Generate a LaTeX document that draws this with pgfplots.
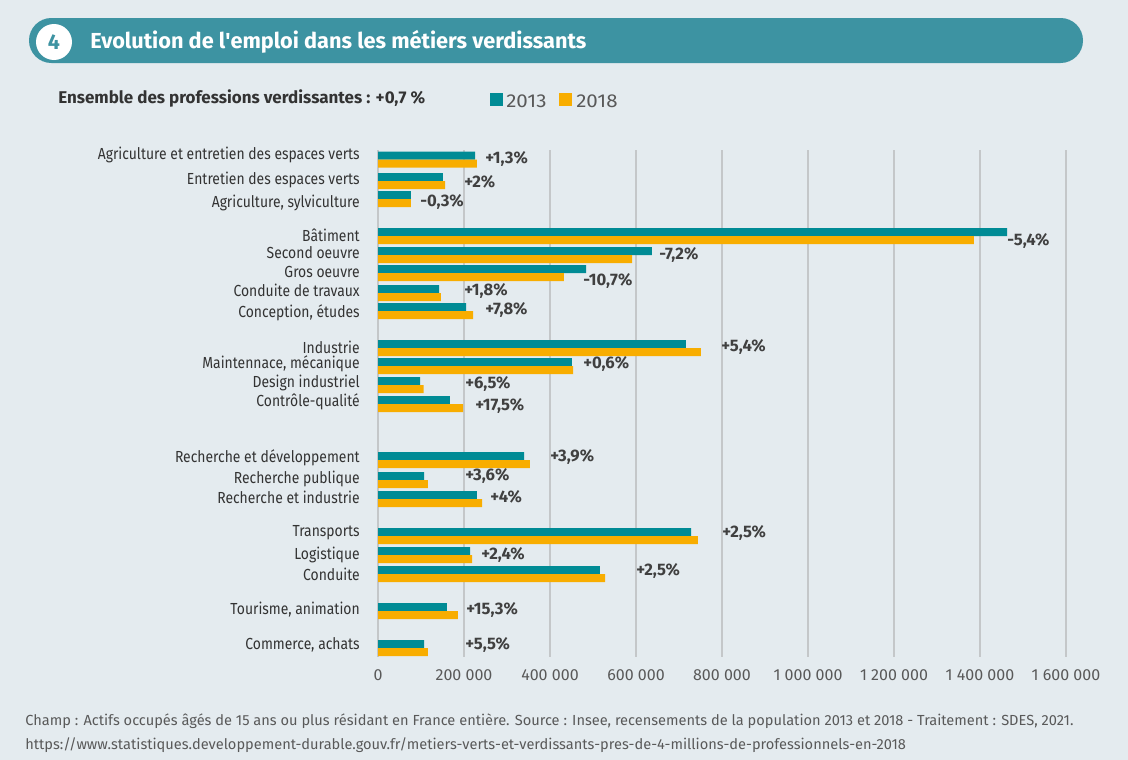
\documentclass[border=0pt]{standalone}
\usepackage{pgfplots}
\pgfplotsset{compat=1.18}
\usepackage{fontspec}
\setmainfont{Fira Sans}
\newfontfamily\condfont[FakeStretch=0.87]{Fira Sans}
\newfontfamily\widefont[FakeStretch=1.1]{Fira Sans}
\definecolor{bg}{HTML}{E4EBEF}
\definecolor{teal13}{HTML}{008B95}
\definecolor{orange18}{HTML}{F8AD00}
\definecolor{banner}{HTML}{3D93A2}
\definecolor{lab}{HTML}{333333}
\definecolor{vlab}{HTML}{404040}
\definecolor{tick}{HTML}{595959}
\definecolor{gridc}{HTML}{C4C7C9}
\begin{document}
\begin{tikzpicture}
\begin{scope}[x=0.75pt,y=-0.75pt]
\fill[bg] (0,0) rectangle (1128,760);
\useasboundingbox (0,0) rectangle (1128,760);
\fill[banner,rounded corners=16.8pt] (29,18) rectangle (1083,63);
\fill[white] (54,42) circle (13.5pt);
\node[text=banner,font=\fontsize{16}{18}\selectfont\bfseries] at (54,42) {4};
\node[anchor=west,inner sep=0pt,text=white,font=\fontsize{16.3}{19}\selectfont\bfseries] at (90,42) {Evolution de l\textquotesingle emploi dans les métiers verdissants};
\node[anchor=west,inner sep=0pt,text=lab,font=\fontsize{12.75}{15}\selectfont\bfseries] at (58,98) {Ensemble des professions verdissantes : +0,7 \%};
\fill[teal13] (490,93) rectangle (503,106);
\node[anchor=west,inner sep=0pt,text=tick,font=\widefont\fontsize{14}{16}\selectfont] at (506,101) {2013};
\fill[orange18] (559,93) rectangle (572,106);
\node[anchor=west,inner sep=0pt,text=tick,font=\widefont\fontsize{14}{16}\selectfont] at (576,101) {2018};
\node[anchor=west,inner sep=0pt,text=tick,font=\fontsize{10.95}{13}\selectfont] at (25,721) {Champ : Actifs occupés âgés de 15 ans ou plus résidant en France entière. Source : Insee, recensements de la population 2013 et 2018 - Traitement : SDES, 2021.};
\node[anchor=west,inner sep=0pt,text=tick,font=\fontsize{10.95}{13}\selectfont] at (25,745) {https://www.statistiques.developpement-durable.gouv.fr/metiers-verts-et-verdissants-pres-de-4-millions-de-professionnels-en-2018};
\end{scope}
\begin{axis}[
  at={(283.5pt,-492.75pt)}, anchor=south west,
  scale only axis, width=516pt, height=380.25pt,
  xmin=0, xmax=1600000, ymin=150, ymax=657, y dir=reverse,
  scaled x ticks=false,
  axis line style={draw=none}, tick style={draw=none},
  xmajorgrids, grid style={gridc, line width=1.2pt},
  xtick={0,200000,400000,600000,800000,1000000,1200000,1400000,1600000},
  xticklabels={0,{200 000},{400 000},{600 000},{800 000},{1 000 000},{1 200 000},{1 400 000},{1 600 000}},
  xticklabel style={text=tick, font=\fontsize{12}{14}\selectfont, anchor=north, inner sep=0pt, yshift=-9.5pt},
  ytick={155,180,203,235,253,272,290,313,347,364,383,402,458,479,497,533,555,574,610,645},
  yticklabels={Agriculture et entretien des espaces verts, Entretien des espaces verts, {Agriculture, sylviculture}, Bâtiment, Second oeuvre, Gros oeuvre, Conduite de travaux, {Conception, études}, Industrie, {Maintennace, mécanique}, Design industriel, Contrôle-qualité, Recherche et développement, Recherche publique, Recherche et industrie, Transports, Logistique, Conduite, {Tourisme, animation}, {Commerce, achats}},
  yticklabel style={text=lab, font=\condfont\fontsize{12}{14}\selectfont, anchor=east, inner sep=0pt, xshift=-13.5pt},
  clip=false,
]
\addplot[xbar, bar shift=0, bar width=8, fill=teal13, draw=none] coordinates {
(225600,155.5) (151000,177) (76700,195) (1463000,232) (637000,251) (484000,269) (142000,289) (205000,307)
(716000,344) (451000,362) (98000,381) (167000,400) (340000,456) (107000,476) (230000,495)
(728000,532) (214000,551) (516000,570) (160000,607) (107000,644)};
\addplot[xbar, bar shift=0, bar width=8, fill=orange18, draw=none] coordinates {
(230000,163.5) (156000,185) (76500,203) (1386000,240) (591000,259) (432000,277) (146500,297) (221000,315)
(751000,352) (453500,370) (106000,389) (198000,408) (353000,464) (116000,484) (242000,503)
(744000,540) (219000,559) (528000,578) (186000,615) (116000,652)};
\begin{scope}[every node/.style={anchor=west, inner sep=0pt, text=vlab, font=\fontsize{12.5}{14}\selectfont\bfseries}]
\node at (axis cs:248800,159) {+1,3\%};
\node at (axis cs:200000,182) {+2\%};
\node at (axis cs:97700,202) {-0,3\%};
\node at (axis cs:1462800,241) {-5,4\%};
\node at (axis cs:653500,255) {-7,2\%};
\node at (axis cs:476700,281) {-10,7\%};
\node at (axis cs:200000,291) {+1,8\%};
\node at (axis cs:248800,310) {+7,8\%};
\node at (axis cs:797700,347) {+5,4\%};
\node at (axis cs:476700,364) {+0,6\%};
\node at (axis cs:202300,384) {+6,5\%};
\node at (axis cs:225600,406) {+17,5\%};
\node at (axis cs:400000,457) {+3,9\%};
\node at (axis cs:202300,476) {+3,6\%};
\node at (axis cs:260500,497) {+4\%};
\node at (axis cs:800000,533) {+2,5\%};
\node at (axis cs:239500,555) {+2,4\%};
\node at (axis cs:600000,571) {+2,5\%};
\node at (axis cs:204700,610) {+15,3\%};
\node at (axis cs:202300,645) {+5,5\%};
\end{scope}
\end{axis}
\end{tikzpicture}
\end{document}
